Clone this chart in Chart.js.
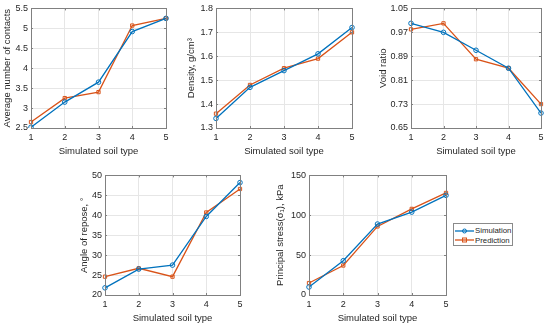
<!DOCTYPE html>
<html>
<head>
<meta charset="utf-8">
<script src="https://cdn.jsdelivr.net/npm/chart.js@4/dist/chart.umd.min.js"></script>
<style>
  body { margin: 0; background: #fff; width: 550px; height: 325px; position: relative; overflow: hidden;
         font-family: 'Liberation Sans', Arial, sans-serif; }
  canvas { position: absolute; }
  #legend { position: absolute; left: 453px; top: 223px; width: 60px; height: 23px; border: 1px solid #8a8a8a;
            background: #fff; font-size: 7.8px; color: #262626; padding-top: 2px; box-sizing: border-box; }
  #legend div { white-space: nowrap; height: 9.5px; line-height: 9.5px; }
  #legend svg { vertical-align: middle; margin: 0 1px 0 1px; }
</style>
</head>
<body>
<canvas id="c1" width="174" height="160" style="left:0px;top:0px"></canvas>
<canvas id="c2" width="184" height="160" style="left:176px;top:0px"></canvas>
<canvas id="c3" width="178" height="160" style="left:371px;top:0px"></canvas>
<canvas id="c4" width="183" height="160" style="left:65px;top:167px"></canvas>
<canvas id="c5" width="185" height="160" style="left:269px;top:167px"></canvas>
<div id="legend">
  <div><svg width="19" height="8"><line x1="0" y1="4" x2="19" y2="4" stroke="#0072BD" stroke-width="1.3"/><circle cx="9.5" cy="4" r="2" fill="none" stroke="#0072BD"/></svg>Simulation</div>
  <div><svg width="19" height="8"><line x1="0" y1="4" x2="19" y2="4" stroke="#D95319" stroke-width="1.3"/><rect x="7.5" y="2" width="4" height="4" fill="none" stroke="#D95319"/></svg>Prediction</div>
</div>
<script>
// simulated soil types 1..5
var soilTypes = ['1', '2', '3', '4', '5'];

var contactsSim  = [2.52, 3.15, 3.65, 4.92, 5.25];
var contactsPred = [2.65, 3.25, 3.40, 5.07, 5.25];
var contactsTicks = [2.5, 3, 3.5, 4, 4.5, 5, 5.5];

var densitySim  = [1.34, 1.47, 1.54, 1.61, 1.72];
var densityPred = [1.36, 1.48, 1.55, 1.59, 1.70];
var densityTicks = [1.3, 1.4, 1.5, 1.6, 1.7, 1.8];

var voidSim  = [1.00, 0.97, 0.91, 0.85, 0.70];
var voidPred = [0.98, 1.00, 0.88, 0.85, 0.73];
var voidTicks = [0.65, 0.73, 0.81, 0.89, 0.97, 1.05];

var angleSim  = [21.8, 26.5, 27.5, 39.7, 48.2];
var anglePred = [24.6, 26.7, 24.6, 40.7, 46.6];
var angleTicks = [20, 25, 30, 35, 40, 45, 50];

var stressSim  = [10, 43, 89, 104, 125];
var stressPred = [15, 37, 86, 108, 128];
var stressTicks = [0, 50, 100, 150];

var simColor = '#0072BD';
var predColor = '#D95319';
var font = "'Liberation Sans', Arial, sans-serif";

// box around plot area + inward ticks, like matlab
var boxPlugin = {
	id: 'box',
	afterDatasetsDraw: function(chart){
		var a = chart.chartArea, ctx = chart.ctx;
		ctx.save();
		ctx.strokeStyle = '#808080';
		ctx.lineWidth = 1;
		ctx.strokeRect(Math.round(a.left) + 0.5, Math.round(a.top) + 0.5, Math.round(a.right - a.left), Math.round(a.bottom - a.top));
		ctx.beginPath();
		chart.scales.x.ticks.forEach(function(t, i){
			var px = Math.round(chart.scales.x.getPixelForTick(i)) + 0.5;
			ctx.moveTo(px, a.bottom); ctx.lineTo(px, a.bottom - 2);
			ctx.moveTo(px, a.top); ctx.lineTo(px, a.top + 2);
		});
		chart.scales.y.ticks.forEach(function(t){
			var py = Math.round(chart.scales.y.getPixelForValue(t.value)) + 0.5;
			ctx.moveTo(a.left, py); ctx.lineTo(a.left + 2, py);
			ctx.moveTo(a.right, py); ctx.lineTo(a.right - 2, py);
		});
		ctx.stroke();
		ctx.restore();
	}
};

function makePanel(id, sim, pred, ticks, yTitle, yWidth, titlePad){
	var ctx = document.getElementById(id);
	return new Chart(ctx, {
		type: 'line',
		data: {
			labels: soilTypes,
			datasets: [
				{
					label: 'Simulation',
					data: sim,
					borderColor: simColor,
					backgroundColor: 'rgba(0,0,0,0)',
					borderWidth: 1.3,
					pointStyle: 'circle',
					pointRadius: 2.3,
					pointBorderWidth: 1,
					tension: 0
				},
				{
					label: 'Prediction',
					data: pred,
					borderColor: predColor,
					backgroundColor: 'rgba(0,0,0,0)',
					borderWidth: 1.3,
					pointStyle: 'rect',
					pointRadius: 2.3,
					pointBorderWidth: 1,
					tension: 0
				}
			]
		},
		options: {
			responsive: false,
			animation: false,
			devicePixelRatio: 1,
			layout: { padding: { top: 7, right: 8, left: 0, bottom: 0 } },
			plugins: { legend: { display: false }, tooltip: { enabled: false } },
			scales: {
				x: {
					offset: false,
					grid: { color: '#e6e6e6', tickLength: 0, offset: false, drawTicks: false },
					border: { display: false },
					ticks: { color: '#262626', font: { family: font, size: 9 }, padding: 4, maxRotation: 0 },
					title: { display: true, text: 'Simulated soil type', color: '#262626', font: { family: font, size: 9.5 }, padding: { top: 0, bottom: 3 } },
					afterFit: function(s){ s.height = 32; }
				},
				y: {
					min: ticks[0],
					max: ticks[ticks.length - 1],
					grid: { color: '#e6e6e6', drawTicks: false },
					border: { display: false },
					afterBuildTicks: function(s){ s.ticks = ticks.map(function(v){ return { value: v }; }); },
					ticks: {
						color: '#262626', font: { family: font, size: 9 }, padding: 3,
						callback: function(v){ return String(v); }
					},
					title: { display: true, text: yTitle, color: '#262626', font: { family: font, size: 9.5 }, padding: { top: titlePad, bottom: 0 } },
					afterFit: function(s){ s.width = yWidth; }
				}
			}
		},
		plugins: [boxPlugin]
	});
}

makePanel('c1', contactsSim, contactsPred, contactsTicks, 'Average number of contacts', 31, 2);
makePanel('c2', densitySim, densityPred, densityTicks, 'Density, g/cm\u00B3', 40, 10);
makePanel('c3', voidSim, voidPred, voidTicks, 'Void ratio', 40, 7);
makePanel('c4', angleSim, anglePred, angleTicks, 'Angle of repose, \u00B0', 40, 14);
makePanel('c5', stressSim, stressPred, stressTicks, 'Principal stress(\u03C3\u2081), kPa', 40, 6);
</script>
</body>
</html>
